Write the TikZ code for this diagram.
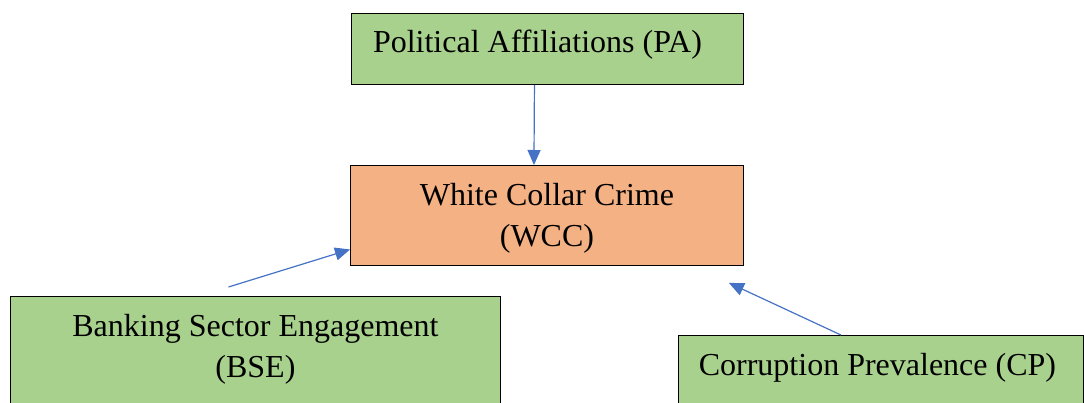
\documentclass[tikz,border=0pt]{standalone}
\usepackage{fontspec}
\setmainfont{Liberation Serif}
\usetikzlibrary{arrows.meta}
\definecolor{boxgreen}{HTML}{A9D18E}
\definecolor{boxorange}{HTML}{F4B183}
\definecolor{linkblue}{HTML}{4472C4}
\begin{document}
\begin{tikzpicture}[x=1pt, y=-1pt,
  box/.style={draw=black, line width=0.9pt, inner sep=0pt, anchor=north west},
  txt/.style={anchor=base, align=center, inner sep=0pt, font=\fontsize{32}{41}\selectfont},
  link/.style={linkblue, line width=1.2pt, -{Triangle[length=15pt, width=13pt]}}]
\useasboundingbox (0,0) rectangle (1084,402);
\node[box, fill=boxgreen, minimum width=392pt, minimum height=71pt] (pa) at (351,13) {};
\node[box, fill=boxorange, minimum width=393pt, minimum height=100pt] (wcc) at (350,165) {};
\node[box, fill=boxgreen, minimum width=490pt, minimum height=130pt] (bse) at (10,296) {};
\node[box, fill=boxgreen, minimum width=405pt, minimum height=100pt] (cp) at (678,335) {};
% base of a two-line node sits on its last line
\node[txt] (patext) at ([xshift=-10pt, yshift=-39pt]pa.north) {Political Affiliations (PA)};
\node[txt] (wcctext) at ([yshift=-81pt]wcc.north) {White Collar Crime\\(WCC)};
\node[txt] (bsetext) at ([yshift=-81pt]bse.north) {Banking Sector Engagement\\(BSE)};
\node[txt] (cptext) at ([xshift=-3.5pt, yshift=-40pt]cp.north) {Corruption Prevalence (CP)};
\draw[link] ([xshift=-13pt]pa.south) -- ([xshift=-13pt]wcc.north);
\draw[link] ([xshift=-27pt, yshift=9pt]bse.north) -- ([yshift=-34pt]wcc.west);
\draw[link] ([xshift=-40pt]cp.north) -- ([xshift=-15pt, yshift=-17pt]wcc.south east);
\end{tikzpicture}
\end{document}
